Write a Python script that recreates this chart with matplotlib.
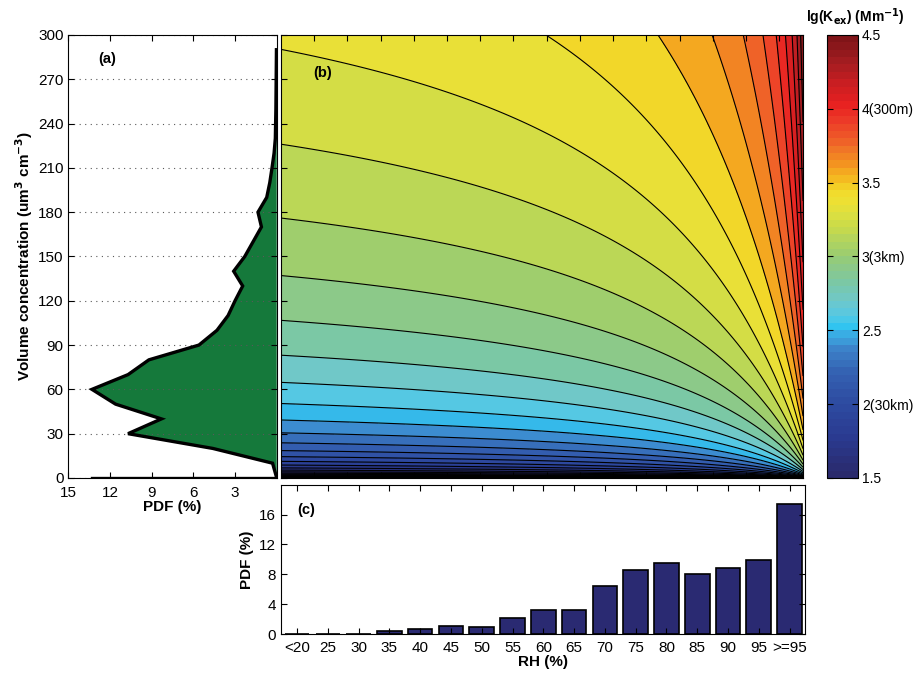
import numpy as np
import matplotlib
matplotlib.use("Agg")
import matplotlib.pyplot as plt
from matplotlib.colors import LinearSegmentedColormap, ListedColormap, Normalize
from matplotlib.cm import ScalarMappable

plt.rcParams['font.family'] = ['Liberation Sans', 'DejaVu Sans']
plt.rcParams['font.size'] = 11

# (a) PDF of volume concentration
pdf_vol = [0, 10, 20, 30, 40, 50, 60, 70, 80, 90, 100, 110, 120, 130, 140,
           150, 160, 170, 180, 190, 200, 210, 220, 230, 240, 250, 260, 270, 280, 290]
pdf_val = [0.0, 0.3, 4.6, 10.7, 8.3, 11.6, 13.3, 10.7, 9.2, 5.6, 4.3, 3.5, 3.0, 2.45, 3.1,
           2.3, 1.7, 1.1, 1.35, 0.72, 0.5, 0.34, 0.19, 0.1, 0.08, 0.06, 0.05, 0.04, 0.03, 0.02]

# (b) extinction field lg(Kex) = lg(c * V * f(RH)), f = 1 + b*RH/(1-RH)
rh_range = [20.0, 98.6]      # %
vol_range = [0.2, 300.0]     # um3 cm-3
ext_eff = 6.6                # Mm-1 per um3 cm-3 (dry)
growth_b = 0.205
level_base = 3.304
level_step = 0.1086

# (c) PDF of RH
rh_labels = ['<20', '25', '30', '35', '40', '45', '50', '55', '60', '65',
             '70', '75', '80', '85', '90', '95', '>=95']
rh_pdf = [0.05, 0.05, 0.05, 0.35, 0.72, 1.07, 0.94, 2.15, 3.27, 3.25,
          6.45, 8.56, 9.54, 8.06, 8.91, 9.95, 17.43]

cbar_ticks = [1.5, 2.0, 2.5, 3.0, 3.5, 4.0, 4.5]
cbar_labels = ['1.5', '2(30km)', '2.5', '3(3km)', '3.5', '4(300m)', '4.5']

# colormap anchors
anchors = [(1.5, '#2a2a6c'), (1.75, '#2a3a90'), (2.0, '#2e4ca2'), (2.2, '#3462b2'),
           (2.35, '#3c80c8'), (2.45, '#3ca6e0'), (2.52, '#30c8f2'), (2.6, '#58c8e2'),
           (2.7, '#70c8c8'), (2.8, '#78c8aa'), (2.9, '#88c890'), (3.0, '#98cc72'),
           (3.1, '#b0d460'), (3.2, '#c8da4a'), (3.3, '#dee040'), (3.4, '#f0e030'),
           (3.47, '#f2d628'), (3.55, '#f5b420'), (3.65, '#f39020'), (3.75, '#f07028'),
           (3.85, '#ee5028'), (3.95, '#ec3828'), (4.05, '#e82020'), (4.2, '#c81e22'),
           (4.35, '#a01c20'), (4.5, '#801418')]
cmap = LinearSegmentedColormap.from_list(
    'kex', [((v - 1.5) / 3.0, c) for v, c in anchors])
cmap_bar = ListedColormap(cmap(np.linspace(0, 1, 60)))
norm = Normalize(1.5, 4.5)

fig = plt.figure(figsize=(9.16, 6.75), dpi=100)
axa = fig.add_axes([0.0746, 0.2919, 0.2275, 0.6563])
axb = fig.add_axes([0.3068, 0.2919, 0.5699, 0.6563])
cax = fig.add_axes([0.9025, 0.2919, 0.0338, 0.6563])
axc = fig.add_axes([0.3068, 0.0607, 0.5720, 0.2212])

# panel a
axa.fill_betweenx(pdf_vol, pdf_val, 0, facecolor='#15793b', edgecolor='none')
axa.plot(pdf_val, pdf_vol, color='k', lw=2.4, solid_joinstyle='miter')
axa.plot([13.3, 0], [0, 0], color='k', lw=2.4)
axa.set_xlim(15, 0)
axa.set_ylim(0, 300)
axa.set_xticks([15, 12, 9, 6, 3])
axa.set_yticks(range(0, 301, 30))
axa.yaxis.grid(True, linestyle=(0, (1, 4)), color='0.35', lw=0.8)
axa.tick_params(direction='in', top=True, right=True, length=4, labelsize=11)
axa.tick_params(axis='x', pad=6)
axa.set_xlabel('PDF (%)', fontweight='bold', labelpad=0)
axa.set_ylabel('Volume concentration (um$^\\mathbf{3}$ cm$^{\\mathbf{-3}}$)',
               fontweight='bold', fontsize=11, labelpad=2)
axa.text(0.186, 0.946, '(a)', transform=axa.transAxes, fontweight='bold',
         ha='center', va='center', fontsize=10.5)

# panel b
rh = np.linspace(rh_range[0], rh_range[1], 500)
vol = np.concatenate([np.geomspace(vol_range[0], 5, 300), np.linspace(5, vol_range[1], 700)[1:]])
RH, V = np.meshgrid(rh, vol)
s = (RH / 100) / (1 - RH / 100)
Z = np.log10(ext_eff * V * (1 + growth_b * s))
lev = level_base + level_step * np.arange(-28, 13)
axb.contourf(RH, V, Z, levels=lev, cmap=cmap, norm=norm, extend='both')
axb.contour(RH, V, Z, levels=lev, colors='k', linewidths=0.8)
axb.set_xlim(rh_range)
axb.set_ylim(0, 300)
axb.set_xticks(range(25, 96, 5))
axb.set_yticks(range(0, 301, 30))
axb.tick_params(direction='in', top=True, right=True, length=4,
                labelbottom=False, labelleft=False)
axb.text(0.08, 0.914, '(b)', transform=axb.transAxes, fontweight='bold',
         ha='center', va='center', fontsize=10.5)

# colorbar
cb = fig.colorbar(ScalarMappable(norm=norm, cmap=cmap_bar), cax=cax)
cb.set_ticks(cbar_ticks)
cb.set_ticklabels(cbar_labels)
cb.outline.set_linewidth(0.8)
cax.tick_params(direction='in', left=True, right=True, length=4, labelsize=10, pad=3)
fig.text(0.988, 0.974, 'lg(K$_{\\mathbf{ex}}$) (Mm$^{\\mathbf{-1}}$)', ha='right',
         va='center', fontweight='bold', fontsize=10)

# panel c
xpos = np.arange(len(rh_labels))
axc.bar(xpos, rh_pdf, width=0.8, color='#2a2a72', edgecolor='k', linewidth=1.2)
axc.set_xlim(-0.52, 16.5)
axc.set_ylim(0, 20)
axc.set_xticks(xpos)
axc.set_xticklabels(rh_labels)
axc.set_yticks([0, 4, 8, 12, 16])
axc.tick_params(direction='in', top=True, right=True, length=4, labelsize=11)
axc.tick_params(axis='x', pad=5)
axc.set_xlabel('RH (%)', fontweight='bold', labelpad=0)
axc.set_ylabel('PDF (%)', fontweight='bold')
axc.text(0.048, 0.83, '(c)', transform=axc.transAxes, fontweight='bold',
         ha='center', va='center', fontsize=10.5)

fig.savefig('out.png', dpi=100)
